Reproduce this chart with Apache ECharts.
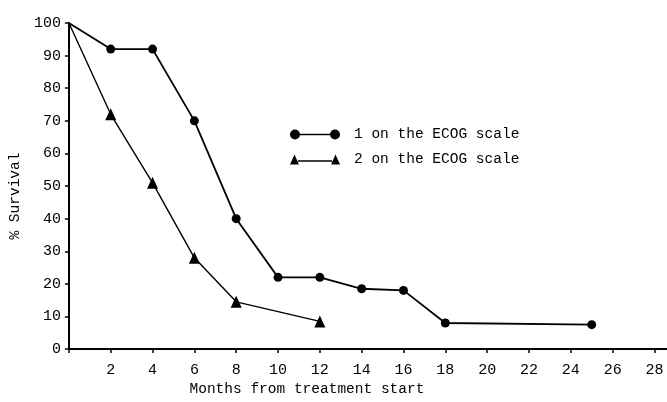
<!DOCTYPE html>
<html lang="en">
<head>
<meta charset="UTF-8">
<title>% Survival by ECOG scale</title>
<script src="https://cdn.jsdelivr.net/npm/echarts@6/dist/echarts.min.js"></script>
<style>
  html, body { margin: 0; padding: 0; background: #fff; }
  #main { width: 667px; height: 402px; }
</style>
</head>
<body>
<div id="main"></div>
<script>
// data
var months1 = [0, 2, 4, 6, 8, 10, 12, 14, 16, 18, 25];
var surv1 = [100, 92, 92, 70, 40, 22, 22, 18.5, 18, 8, 7.5];
var months2 = [0, 2, 4, 6, 8, 12];
var surv2 = [100, 72, 51, 28, 14.5, 8.5];
var seriesNames = ['1 on the ECOG scale', '2 on the ECOG scale'];

var FONT = 'Liberation Mono';

// pairs [x, y]; the start point at 100% has no marker
function pairs(xs, ys) {
  var out = [];
  for (var i = 0; i < xs.length; i++) {
    if (i === 0) out.push({ value: [xs[i], ys[i]], symbol: 'none' });
    else out.push([xs[i], ys[i]]);
  }
  return out;
}

// legend glyphs: marker - line - marker
var iconCircle = 'path://M0,5A5,5,0,1,1,10,5A5,5,0,1,1,0,5Z' +
  'M40,5A5,5,0,1,1,50,5A5,5,0,1,1,40,5Z' +
  'M9,4.2L41,4.2L41,5.8L9,5.8Z';
var iconTriangle = 'path://M0,10L4.5,0L9,10Z' +
  'M41,10L45.5,0L50,10Z' +
  'M8,5.8L42,5.8L42,7.2L8,7.2Z';

var chart = echarts.init(document.getElementById('main'));

var option = {
  backgroundColor: '#fff',
  animation: false,
  grid: { left: 67, right: 0, top: 23, bottom: 45, containLabel: false },
  legend: {
    orient: 'vertical',
    left: 290,
    top: 127,
    padding: 0,
    itemWidth: 50,
    itemHeight: 10,
    itemGap: 10,
    selectedMode: false,
    textStyle: { fontFamily: FONT, fontSize: 14.5, color: '#000', padding: [0, 0, 0, 9] },
    data: [
      { name: seriesNames[0], icon: iconCircle },
      { name: seriesNames[1], icon: iconTriangle }
    ]
  },
  xAxis: {
    type: 'value',
    min: 0,
    max: 28.6,
    interval: 2,
    name: 'Months from treatment start',
    nameLocation: 'middle',
    nameGap: 29,
    nameTextStyle: { fontFamily: FONT, fontSize: 14.5, color: '#000', padding: [0, 122, 0, 0] },
    axisLine: { lineStyle: { color: '#000', width: 2 } },
    axisTick: { length: 4, lineStyle: { color: '#000', width: 1.5 } },
    axisLabel: {
      fontFamily: FONT, fontSize: 15, color: '#000', margin: 13,
      showMaxLabel: false,
      formatter: function (v) { return (v > 0 && v % 2 === 0) ? String(v) : ''; }
    },
    splitLine: { show: false }
  },
  yAxis: {
    type: 'value',
    min: 0,
    max: 100,
    interval: 10,
    name: '% Survival',
    nameLocation: 'middle',
    nameGap: 41,
    nameTextStyle: { fontFamily: FONT, fontSize: 14.5, color: '#000', padding: [0, 20, 0, 0] },
    axisLine: { show: true, lineStyle: { color: '#000', width: 2 } },
    axisTick: { show: true, length: 4, lineStyle: { color: '#000', width: 1.5 } },
    axisLabel: { fontFamily: FONT, fontSize: 15, color: '#000', margin: 8, padding: [0, 0, 8, 0] },
    splitLine: { show: false }
  },
  series: [
    {
      name: seriesNames[0],
      type: 'line',
      data: pairs(months1, surv1),
      symbol: 'circle',
      symbolSize: 9,
      showAllSymbol: true,
      itemStyle: { color: '#000' },
      lineStyle: { color: '#000', width: 1.8 }
    },
    {
      name: seriesNames[1],
      type: 'line',
      data: pairs(months2, surv2),
      symbol: 'triangle',
      symbolSize: [11, 12],
      showAllSymbol: true,
      itemStyle: { color: '#000' },
      lineStyle: { color: '#000', width: 1.4 }
    }
  ]
};

chart.setOption(option);
window.addEventListener('resize', function () { chart.resize(); });
</script>
</body>
</html>
